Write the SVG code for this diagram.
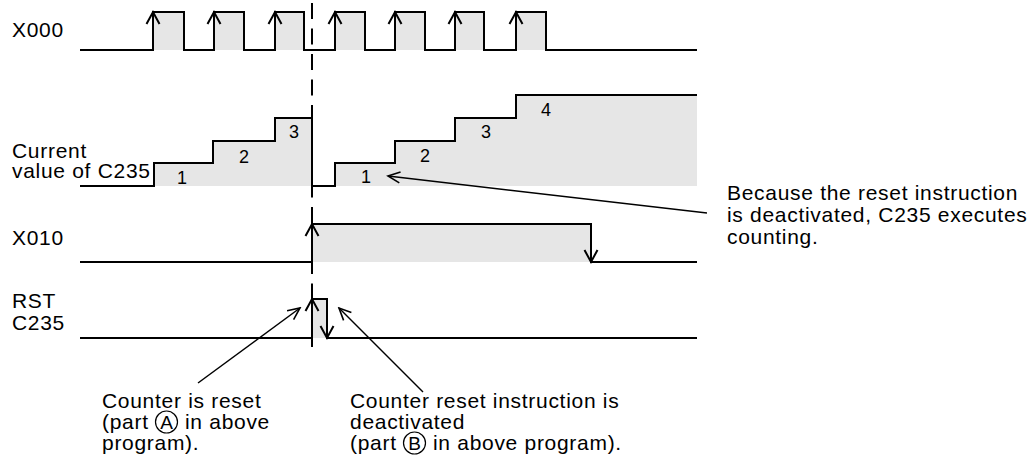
<svg xmlns="http://www.w3.org/2000/svg" xmlns:xlink="http://www.w3.org/1999/xlink" width="1033" height="459" viewBox="0 0 1033 459">
<style>
text{font-family:"Liberation Sans",Arial,sans-serif;fill:#000}
.lbl{font-size:21px;letter-spacing:0.7px}
.dig{font-size:18px;text-anchor:middle}
.wave{fill:none;stroke:#000;stroke-width:2}
.fill{fill:#e6e6e6;stroke:none}
.chev{fill:none;stroke:#000;stroke-width:2}
.conn{fill:none;stroke:#000;stroke-width:1.5;marker-end:url(#ah)}
.circ{fill:none;stroke:#000;stroke-width:1.2}
</style>
<defs>
<path id="up" class="chev" d="M-6.5,12 L0,0 L6.5,12"/>
<path id="dn" class="chev" d="M-6.5,-12 L0,0 L6.5,-12"/>
<marker id="ah" viewBox="-14 -8 16 16" refX="0" refY="0" markerWidth="16" markerHeight="16" markerUnits="userSpaceOnUse" orient="auto">
<path d="M-12,-5.5 L0,0 L-12,5.5" fill="none" stroke="#000" stroke-width="1.6"/>
</marker>
</defs>
<rect width="1033" height="459" fill="#fff"/>

<g id="labels">
<text class="lbl" x="12" y="37">X000</text>
<text class="lbl" x="12" y="158">Current</text>
<text class="lbl" x="12" y="178">value of C235</text>
<text class="lbl" x="12" y="245">X010</text>
<text class="lbl" x="12" y="308">RST</text>
<text class="lbl" x="12" y="330">C235</text>
</g>

<g id="x000">
<rect class="fill" x="153" y="12" width="31" height="38"/>
<rect class="fill" x="214" y="12" width="30" height="38"/>
<rect class="fill" x="275" y="12" width="29" height="38"/>
<rect class="fill" x="335" y="12" width="30" height="38"/>
<rect class="fill" x="395" y="12" width="30" height="38"/>
<rect class="fill" x="455" y="12" width="29" height="38"/>
<rect class="fill" x="516" y="12" width="30" height="38"/>
<path class="wave" d="M80,50 H153 V12 H184 V50 H214 V12 H244 V50 H275 V12 H304 V50 H335 V12 H365 V50 H395 V12 H425 V50 H455 V12 H484 V50 H516 V12 H546 V50 H697"/>
<use xlink:href="#up" x="153" y="12"/>
<use xlink:href="#up" x="214" y="12"/>
<use xlink:href="#up" x="275" y="12"/>
<use xlink:href="#up" x="335" y="12"/>
<use xlink:href="#up" x="395" y="12"/>
<use xlink:href="#up" x="455" y="12"/>
<use xlink:href="#up" x="516" y="12"/>
</g>

<g id="counter">
<path class="fill" d="M154,186 V163 H213 V141 H275 V118 H312 V186 Z"/>
<path class="fill" d="M335,186 V163 H395 V141 H455 V118 H516 V95 H697 V186 Z"/>
<path class="wave" d="M80,186 H154 V163 H213 V141 H275 V118 H312 V186 H335 V163 H395 V141 H455 V118 H516 V95 H697"/>
<text class="dig" x="182" y="184">1</text>
<text class="dig" x="244" y="163">2</text>
<text class="dig" x="294" y="138">3</text>
<text class="dig" x="366" y="183">1</text>
<text class="dig" x="425" y="162">2</text>
<text class="dig" x="486" y="138">3</text>
<text class="dig" x="546" y="116">4</text>
</g>

<g id="x010">
<rect class="fill" x="312" y="224" width="279" height="38"/>
<path class="wave" d="M80,262 H312 V224 H591 V262 H697"/>
<use xlink:href="#up" x="312" y="224"/>
<use xlink:href="#dn" x="591" y="262"/>
</g>

<g id="rst">
<rect class="fill" x="312" y="299" width="15" height="39"/>
<path class="wave" d="M80,338 H312 V299 H327 V338 H697"/>
<use xlink:href="#up" x="312" y="299"/>
<use xlink:href="#dn" x="327" y="338"/>
</g>

<g id="cursor">
<line x1="312" y1="3" x2="312" y2="347" stroke="#000" stroke-width="2" stroke-dasharray="16 9.5"/>
</g>

<g id="note-counting">
<text class="lbl" x="727" y="200">Because the reset instruction</text>
<text class="lbl" x="727" y="222">is deactivated, C235 executes</text>
<text class="lbl" x="727" y="244">counting.</text>
</g>

<g id="note-reset">
<text class="lbl" x="102" y="408">Counter is reset</text>
<text class="lbl" x="102" y="429">(part</text>
<circle class="circ" cx="166.5" cy="422" r="11"/>
<text x="166.5" y="429" style="font-size:19px;text-anchor:middle">A</text>
<text class="lbl" x="185" y="429">in above</text>
<text class="lbl" x="102" y="450">program).</text>
</g>

<g id="note-deact">
<text class="lbl" x="350" y="408">Counter reset instruction is</text>
<text class="lbl" x="350" y="429">deactivated</text>
<text class="lbl" x="350" y="450">(part</text>
<circle class="circ" cx="414.5" cy="443" r="11"/>
<text x="414.5" y="450" style="font-size:19px;text-anchor:middle">B</text>
<text class="lbl" x="433" y="450">in above program).</text>
</g>

<g id="connectors">
<line class="conn" x1="707" y1="213" x2="388" y2="176"/>
<line class="conn" x1="198" y1="383" x2="300" y2="308"/>
<line class="conn" x1="423" y1="392" x2="339" y2="308"/>
</g>
</svg>
